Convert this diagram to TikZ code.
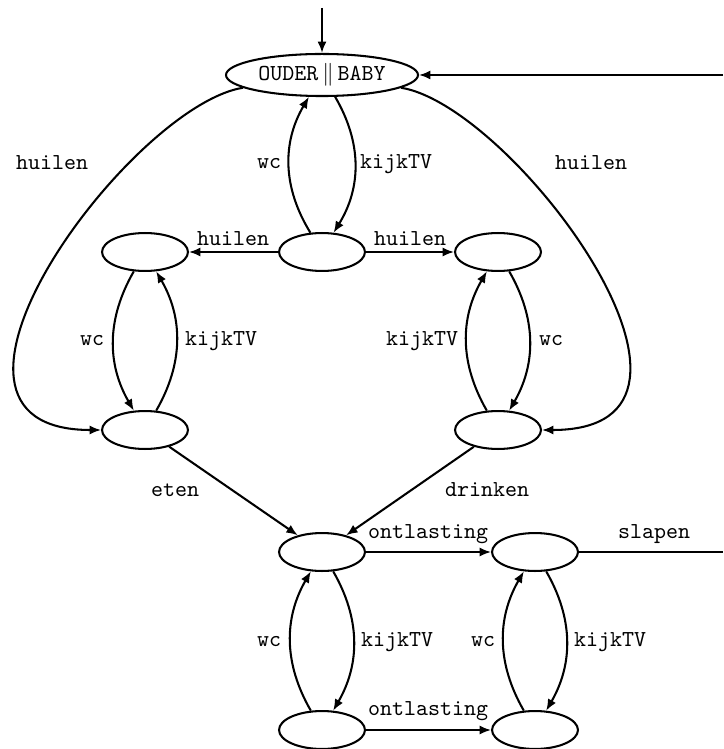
\documentclass[tikz,border=0pt]{standalone}
\usetikzlibrary{shapes.geometric,arrows.meta}
\begin{document}
\begin{tikzpicture}[x=0.4375pt,y=-0.4375pt,
  st/.style={draw,ellipse,line width=0.9pt,minimum width=37.6pt,minimum height=16.6pt,inner sep=0pt},
  top/.style={draw,ellipse,line width=0.9pt,minimum width=84pt,minimum height=18.4pt,inner sep=0pt},
  tr/.style={line width=0.9pt,-{Latex[length=5pt,width=4pt]}},
  lbl/.style={font=\ttfamily,inner sep=1pt}]
\useasboundingbox (0,0) rectangle (723,749);
% states
\node[top] (o) at (322,75) {\makebox[0pt]{\texttt{OUDER}\,$\|$\,\texttt{BABY}}};
\node[st] (m) at (322,252) {};
\node[st] (lt) at (145,252) {};
\node[st] (rt) at (498,252) {};
\node[st] (lb) at (145,430) {};
\node[st] (rb) at (498,430) {};
\node[st] (c) at (322,552) {};
\node[st] (rc) at (535,552) {};
\node[st] (bl) at (322,730) {};
\node[st] (br) at (535,730) {};
\coordinate (init) at (322,8);
\coordinate (outR) at (723,552);
\coordinate (inR) at (723,75);
% connectors
\draw[tr] (init) -- (o);
\draw[tr] (inR) -- (o);
\draw[line width=0.9pt] (rc) -- (outR);
\draw[tr] (o) to[bend left=31] (m);
\draw[tr] (m) to[bend left=31] (o);
\draw[tr] (m) -- (lt);
\draw[tr] (m) -- (rt);
\draw[tr] (lt) to[bend right=30] (lb);
\draw[tr] (lb) to[bend right=30] (lt);
\draw[tr] (rt) to[bend left=30] (rb);
\draw[tr] (rb) to[bend left=30] (rt);
\draw[tr] (o) .. controls (130,106) and (-110,430) .. (lb);
\draw[tr] (o) .. controls (514,106) and (754,430) .. (rb);
\draw[tr] (lb) -- (c);
\draw[tr] (rb) -- (c);
\draw[tr] (c) -- (rc);
\draw[tr] (c) to[bend left=30] (bl);
\draw[tr] (bl) to[bend left=30] (c);
\draw[tr] (rc) to[bend left=30] (br);
\draw[tr] (br) to[bend left=30] (rc);
\draw[tr] (bl) -- (br);
% labels
\node[lbl] (l1) at (269,164) {wc};
\node[lbl] (l2) at (396,164) {kijkTV};
\node[lbl] (l3) at (52,163) {huilen};
\node[lbl] (l4) at (591,163) {huilen};
\node[lbl] (l5) at (233,239) {huilen};
\node[lbl] (l6) at (410,239) {huilen};
\node[lbl] (l7) at (92,341) {wc};
\node[lbl] (l8) at (221,341) {kijkTV};
\node[lbl] (l9) at (422,341) {kijkTV};
\node[lbl] (l10) at (551,341) {wc};
\node[lbl] (l11) at (175,490) {eten};
\node[lbl] (l12) at (487,490) {drinken};
\node[lbl] (l13) at (428,534) {ontlasting};
\node[lbl] (l14) at (654,534) {slapen};
\node[lbl] (l15) at (269,642) {wc};
\node[lbl] (l16) at (397,642) {kijkTV};
\node[lbl] (l17) at (483,642) {wc};
\node[lbl] (l18) at (610,642) {kijkTV};
\node[lbl] (l19) at (428,711) {ontlasting};
\end{tikzpicture}
\end{document}
